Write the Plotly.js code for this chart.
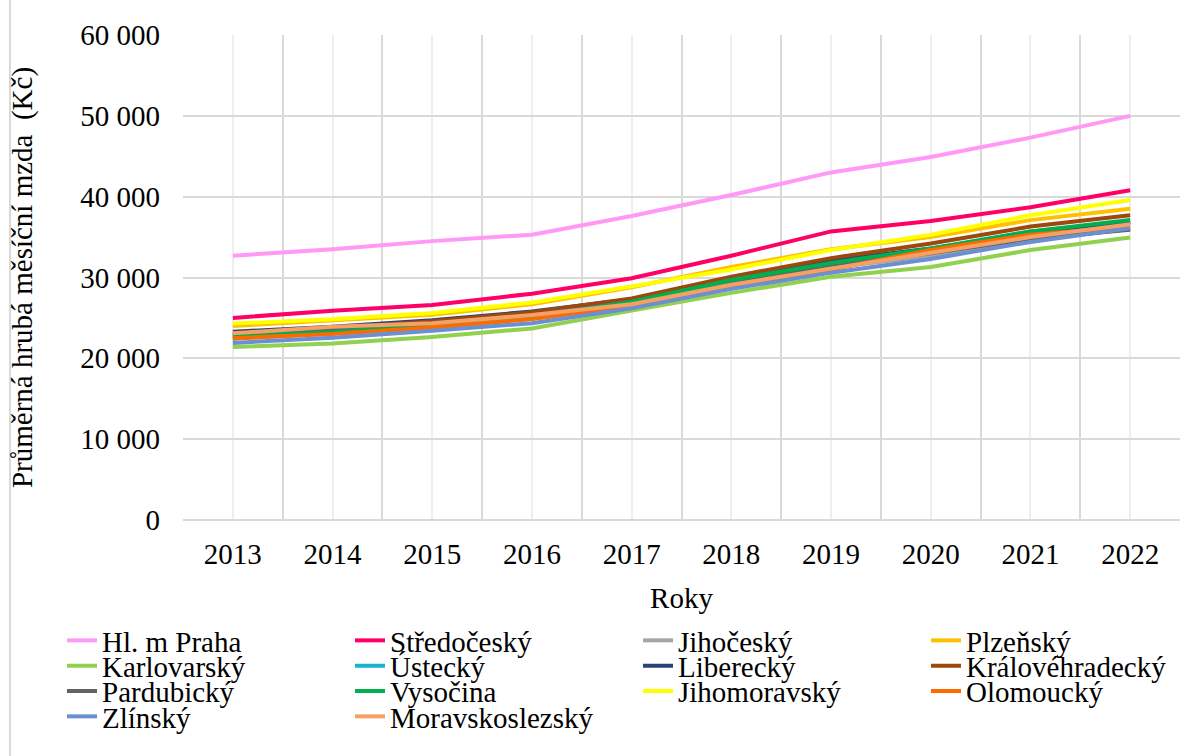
<!DOCTYPE html>
<html>
<head>
<meta charset="utf-8">
<script src="https://cdn.plot.ly/plotly-3.0.1.min.js"></script>
<style>
  html, body { margin: 0; padding: 0; background: #fff; }
  #chart { width: 1187px; height: 756px; }
</style>
</head>
<body>
<div id="chart"></div>
<script>
// ---- Data ----
const years = [2013, 2014, 2015, 2016, 2017, 2018, 2019, 2020, 2021, 2022];

const regionNames = [
  "Hl. m Praha", "Středočeský", "Jihočeský", "Plzeňský",
  "Karlovarský", "Ústecký", "Liberecký", "Královéhradecký",
  "Pardubický", "Vysočina", "Jihomoravský", "Olomoucký",
  "Zlínský", "Moravskoslezský"
];

const praha           = [32700, 33500, 34500, 35300, 37600, 40200, 43000, 44900, 47300, 50000];
const stredocesky     = [25000, 25900, 26600, 28000, 29900, 32700, 35700, 37000, 38700, 40800];
const jihocesky       = [22400, 23100, 23800, 24900, 26700, 28900, 31200, 32700, 34600, 36000];
const plzensky        = [24000, 24700, 25400, 26700, 28800, 31300, 33500, 35000, 37100, 38500];
const karlovarsky     = [21400, 21850, 22650, 23700, 25900, 28100, 30100, 31300, 33400, 34950];
const ustecky         = [22500, 23200, 23900, 25000, 27000, 29300, 31700, 33500, 35700, 36900];
const liberecky       = [23300, 23900, 24700, 25800, 27300, 29800, 32100, 33600, 35400, 36800];
const kralovehradecky = [23000, 23700, 24600, 25700, 27400, 30100, 32400, 34200, 36300, 37700];
const pardubicky      = [22800, 23500, 24300, 25300, 27000, 29400, 31600, 33000, 34800, 35900];
const vysocina        = [22750, 23250, 24100, 25100, 27000, 29700, 31800, 33600, 35700, 37100];
const jihomoravsky    = [24300, 24850, 25600, 26900, 28900, 31000, 33400, 35300, 37700, 39600];
const olomoucky       = [22500, 23000, 23850, 24850, 26500, 29000, 31000, 33400, 35300, 36300];
const zlinsky         = [21900, 22550, 23400, 24350, 26200, 28600, 30600, 32300, 34400, 36100];
const moravskoslezsky = [23100, 23900, 24350, 25350, 26700, 29100, 31100, 33000, 35000, 36600];

const seriesValues = [
  praha, stredocesky, jihocesky, plzensky,
  karlovarsky, ustecky, liberecky, kralovehradecky,
  pardubicky, vysocina, jihomoravsky, olomoucky,
  zlinsky, moravskoslezsky
];

const yTickVals  = [0, 10000, 20000, 30000, 40000, 50000, 60000];
const yTickText  = ["0", "10 000", "20 000", "30 000", "40 000", "50 000", "60 000"];
const xTitle = "Roky";
const yTitle = "Průměrná hrubá měsíční mzda \u00a0(Kč)";

// ---- Styles ----
const colors = [
  "#ff99f5", "#ff0066", "#a5a5a5", "#ffc000",
  "#92d050", "#17b5c9", "#264478", "#9e480e",
  "#636363", "#00b050", "#ffff00", "#ff6a00",
  "#6a8fd2", "#f5a064"
];

// pick the first serif face that is really installed
function pickFont() {
  const candidates = ["Liberation Serif", "Tinos", "Times New Roman", "DejaVu Serif",
                      "Noto Serif", "FreeSerif", "Nimbus Roman", "Times"];
  const ctx = document.createElement("canvas").getContext("2d");
  const sample = "Průměrná hrubá 2013 Moravskoslezský Wil";
  const measure = f => { ctx.font = f; return ctx.measureText(sample).width; };
  const mono = measure("29px monospace"), sans = measure("29px sans-serif");
  for (const c of candidates) {
    if (measure(`29px "${c}", monospace`) !== mono && measure(`29px "${c}", sans-serif`) !== sans) {
      return `${c}, serif`;
    }
  }
  return "Liberation Sans, Arial, sans-serif";
}
const FONT = pickFont();

const W = 1187, H = 756;
const plotL = 183, plotR = 1180, plotT = 35, plotB = 520;
const plotW = plotR - plotL, plotH = plotB - plotT;
const pxX = px => (px - plotL) / plotW;
const pxY = py => (plotB - py) / plotH;

const legendIds = ["legend", "legend2", "legend3", "legend4"];
const traces = seriesValues.map((vals, i) => ({
  x: years,
  y: vals,
  name: regionNames[i],
  type: "scatter",
  mode: "lines",
  line: { color: colors[i], width: 4 },
  legend: legendIds[Math.floor(i / 4)],
  hoverinfo: "x+y+name"
}));

const rowCenters = [640, 665.3, 690.7, 716];
const legendBase = {
  orientation: "h",
  x: pxX(62),
  xanchor: "left",
  yanchor: "top",
  entrywidth: 243,
  entrywidthmode: "pixels",
  bgcolor: "rgba(0,0,0,0)",
  borderwidth: 0,
  font: { family: FONT, size: 29, color: "#000" },
  itemclick: false,
  itemdoubleclick: false
};

const layout = {
  width: W,
  height: H,
  margin: { l: plotL, r: W - plotR, t: plotT, b: H - plotB, autoexpand: false },
  paper_bgcolor: "#ffffff",
  plot_bgcolor: "#ffffff",
  font: { family: FONT, size: 29, color: "#000" },
  showlegend: true,
  xaxis: {
    range: [2012.5, 2022.5],
    tickmode: "array",
    tickvals: years,
    ticktext: years.map(String),
    ticks: "",
    ticklabelstandoff: 14,
    showgrid: true,
    gridcolor: "#eeeeee",
    gridwidth: 2,
    zeroline: false,
    showline: false,
    minor: {
      tickmode: "linear",
      tick0: 2012.5,
      dtick: 1,
      showgrid: true,
      gridcolor: "#d9d9d9",
      gridwidth: 2,
      ticks: ""
    },
    tickfont: { family: FONT, size: 29, color: "#000" },
    title: { text: xTitle, font: { family: FONT, size: 29, color: "#000" }, standoff: 18 },
    fixedrange: true
  },
  yaxis: {
    range: [0, 60000],
    tickmode: "array",
    tickvals: yTickVals,
    ticktext: yTickText,
    ticks: "",
    ticklabelstandoff: 22,
    showgrid: true,
    gridcolor: "#d9d9d9",
    gridwidth: 2,
    zeroline: true,
    zerolinecolor: "#d9d9d9",
    zerolinewidth: 2,
    showline: false,
    tickfont: { family: FONT, size: 29, color: "#000" },
    title: { text: yTitle, font: { family: FONT, size: 29, color: "#000" }, standoff: 39 },
    fixedrange: true
  },
  shapes: [
    {
      type: "line", xref: "paper", yref: "paper",
      x0: pxX(10), x1: pxX(10), y0: pxY(0), y1: pxY(H),
      line: { color: "#d9d9d9", width: 2 }
    }
  ]
};

legendIds.forEach((id, r) => {
  const top = rowCenters[r] - 25;
  layout[id] = Object.assign({}, legendBase, { y: pxY(top) });
});

Plotly.newPlot("chart", traces, layout, { displayModeBar: false, staticPlot: true });
</script>
</body>
</html>
